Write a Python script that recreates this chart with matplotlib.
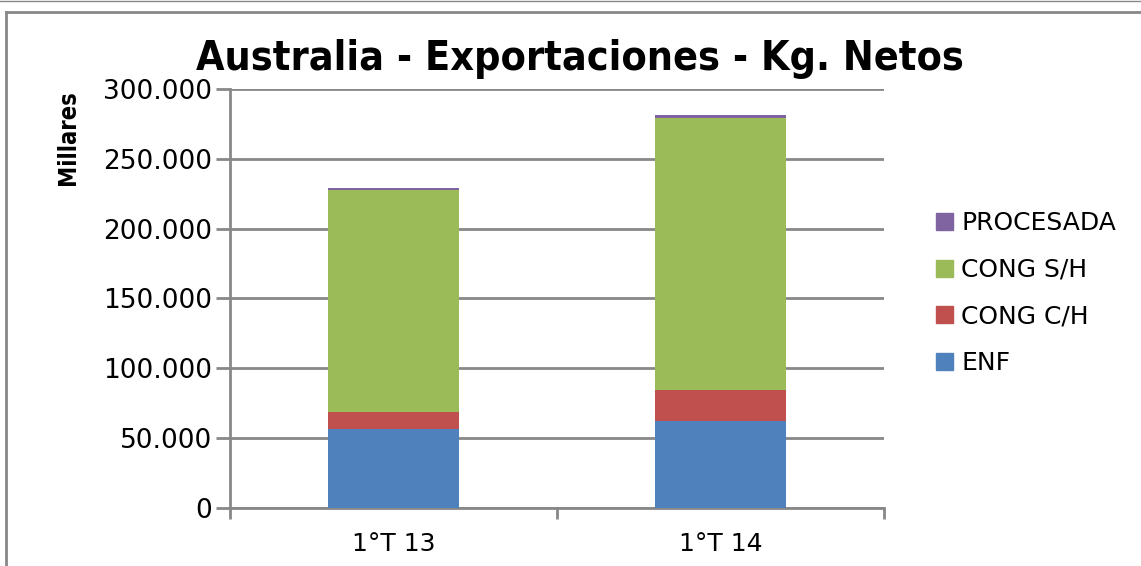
import matplotlib.pyplot as plt
from matplotlib.lines import Line2D
from matplotlib.patches import Patch
import numpy as np

# data (miles de kg)
categories = ['1°T 13', '1°T 14']
enf = [56400, 62100]
cong_ch = [12600, 22200]
cong_sh = [158900, 195200]
procesada = [1000, 2100]

series = ['ENF', 'CONG C/H', 'CONG S/H', 'PROCESADA']
colors = ['#4f81bd', '#c0504d', '#9bbb59', '#8064a2']
yticks = [0, 50000, 100000, 150000, 200000, 250000, 300000]

plt.rcParams['font.family'] = ['DejaVu Sans']

fig = plt.figure(figsize=(11.41, 5.66), dpi=100)
ax = fig.add_axes([0.2016, 0.1025, 0.5732, 0.7403])

x = np.arange(len(categories))
bottom = np.zeros(len(categories))
for name, vals, c in zip(series, [enf, cong_ch, cong_sh, procesada], colors):
    ax.bar(x, vals, width=0.4, bottom=bottom, color=c, label=name, zorder=3)
    bottom += np.array(vals)

ax.set_xlim(-0.5, 1.5)
ax.set_ylim(0, 300000)
ax.set_yticks(yticks)
ax.set_yticklabels([f'{v:,}'.replace(',', '.') for v in yticks], fontsize=19)
ax.set_xticks(x)
ax.set_xticklabels(categories, fontsize=18)
ax.set_xticks([-0.5, 0.5, 1.5], minor=True)
ax.tick_params(axis='x', which='major', length=0, pad=17)
ax.tick_params(axis='x', which='minor', length=8, width=2, color='#888888')
ax.tick_params(axis='y', length=10, width=2, color='#888888', pad=3)

ax.grid(axis='y', color='#888888', linewidth=2, zorder=0)
for s in ['top', 'right']:
    ax.spines[s].set_visible(False)
for s in ['left', 'bottom']:
    ax.spines[s].set_color('#888888')
    ax.spines[s].set_linewidth(2)

fig.text(0.508, 0.895, 'Australia - Exportaciones - Kg. Netos', ha='center', va='center',
         fontsize=29.5, fontweight='bold', fontstretch='condensed')
fig.text(0.06, 0.756, 'Millares', rotation=90, ha='center', va='center',
         fontsize=17, fontweight='bold', fontstretch='condensed')

handles = [Patch(color=c, label=n) for n, c in zip(series, colors)][::-1]
fig.legend(handles=handles, loc='center left', bbox_to_anchor=(0.801, 0.482), frameon=False,
           fontsize=18, handlelength=0.65, handleheight=0.65, handletextpad=0.35, labelspacing=0.9)

# chart border
fig.add_artist(Line2D([0.005, 1.0], [0.979, 0.979], color='#888888', linewidth=2))
fig.add_artist(Line2D([0.005, 0.005], [0.0, 0.979], color='#888888', linewidth=2))
fig.add_artist(Line2D([0.0, 1.0], [0.999, 0.999], color='#888888', linewidth=1))

fig.savefig('out.png', dpi=100)
